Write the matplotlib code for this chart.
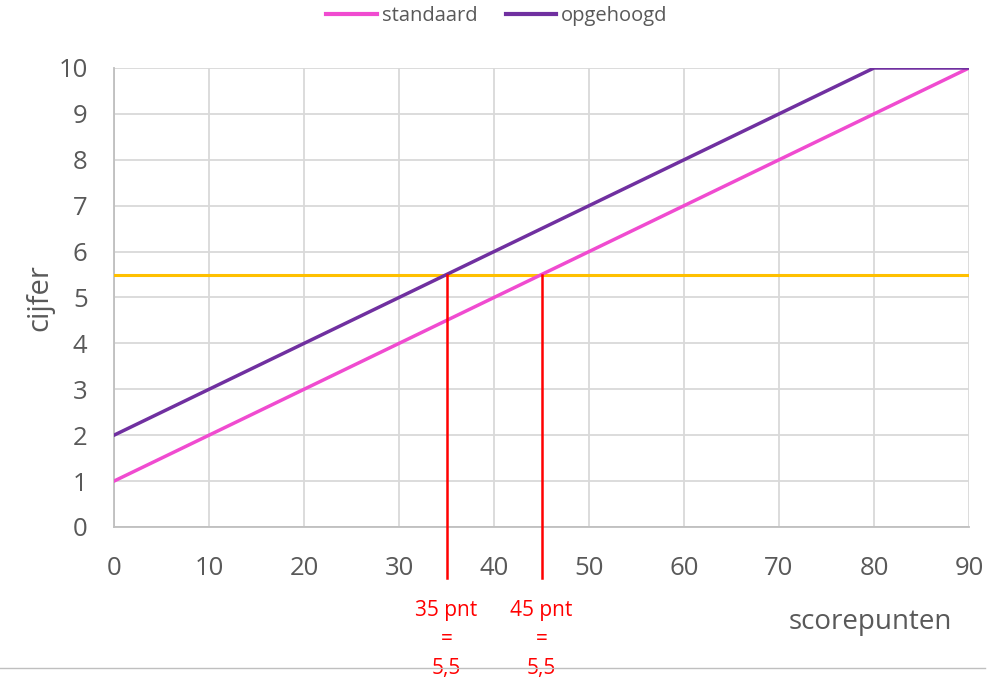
import matplotlib
matplotlib.use("Agg")
import matplotlib.pyplot as plt
from matplotlib.lines import Line2D

plt.rcParams['font.family'] = ['Open Sans', 'DejaVu Sans']

x_std = [0, 90]
y_std = [1, 10]
x_opg = [0, 80, 90]
y_opg = [2, 10, 10]
threshold = 5.5
x_thr = [0, 90]
marks = [35, 45]
mark_labels = ["35 pnt\n=\n5,5", "45 pnt\n=\n5,5"]
xticks = list(range(0, 91, 10))
yticks = list(range(0, 11))

fig = plt.figure(figsize=(9.88, 6.86), dpi=100)
ax = fig.add_axes([114/988, 1-527/686, (969-114)/988, (527-68)/686])
ax.set_xlim(0, 90)
ax.set_ylim(0, 10)
ax.set_xticks(xticks)
ax.set_yticks(yticks)
ax.grid(True, color='#D9D9D9', linewidth=1.3)
ax.set_axisbelow(True)
for s in ['top', 'right']:
    ax.spines[s].set_visible(False)
for s in ['left', 'bottom']:
    ax.spines[s].set_color('#BFBFBF')
    ax.spines[s].set_linewidth(1.3)
ax.tick_params(length=0, labelsize=18.5, labelcolor='#595959')
ax.tick_params(axis='x', pad=21)
ax.tick_params(axis='y', pad=19)

ax.plot(x_thr, [threshold, threshold], color='#FFC000', linewidth=2.2, zorder=3)
ax.plot(x_std, y_std, color='#F04BD0', linewidth=2.5, zorder=4, label='standaard')
ax.plot(x_opg, y_opg, color='#7030A0', linewidth=2.5, zorder=4, label='opgehoogd')

for m, lab in zip(marks, mark_labels):
    ax.plot([m, m], [threshold, -1.12], color='#FF0000', linewidth=1.8, clip_on=False, zorder=5)
    ax.text(m, -1.58, lab, color='#FF0000', fontsize=15, ha='center', va='top',
            linespacing=1.5, clip_on=False)

fig.text(870/988, 1-622/686, 'scorepunten', fontsize=20, color='#595959', ha='center', va='center')
fig.text(40/988, 1-298/686, 'cijfer', fontsize=21, color='#595959', ha='center', va='center', rotation=90)

fig.legend(handles=[Line2D([], [], color='#F04BD0', lw=3), Line2D([], [], color='#7030A0', lw=3)],
           labels=['standaard', 'opgehoogd'], loc='center', bbox_to_anchor=(497/988, 1-16/686),
           ncol=2, frameon=False, fontsize=14.5, labelcolor='#595959', handlelength=2.5,
           handletextpad=0.25, columnspacing=1.4)

fig.add_artist(Line2D([0, 985/988], [1-668/686, 1-668/686], color='#BFBFBF', linewidth=1.0))

fig.savefig('out.png', dpi=100)
